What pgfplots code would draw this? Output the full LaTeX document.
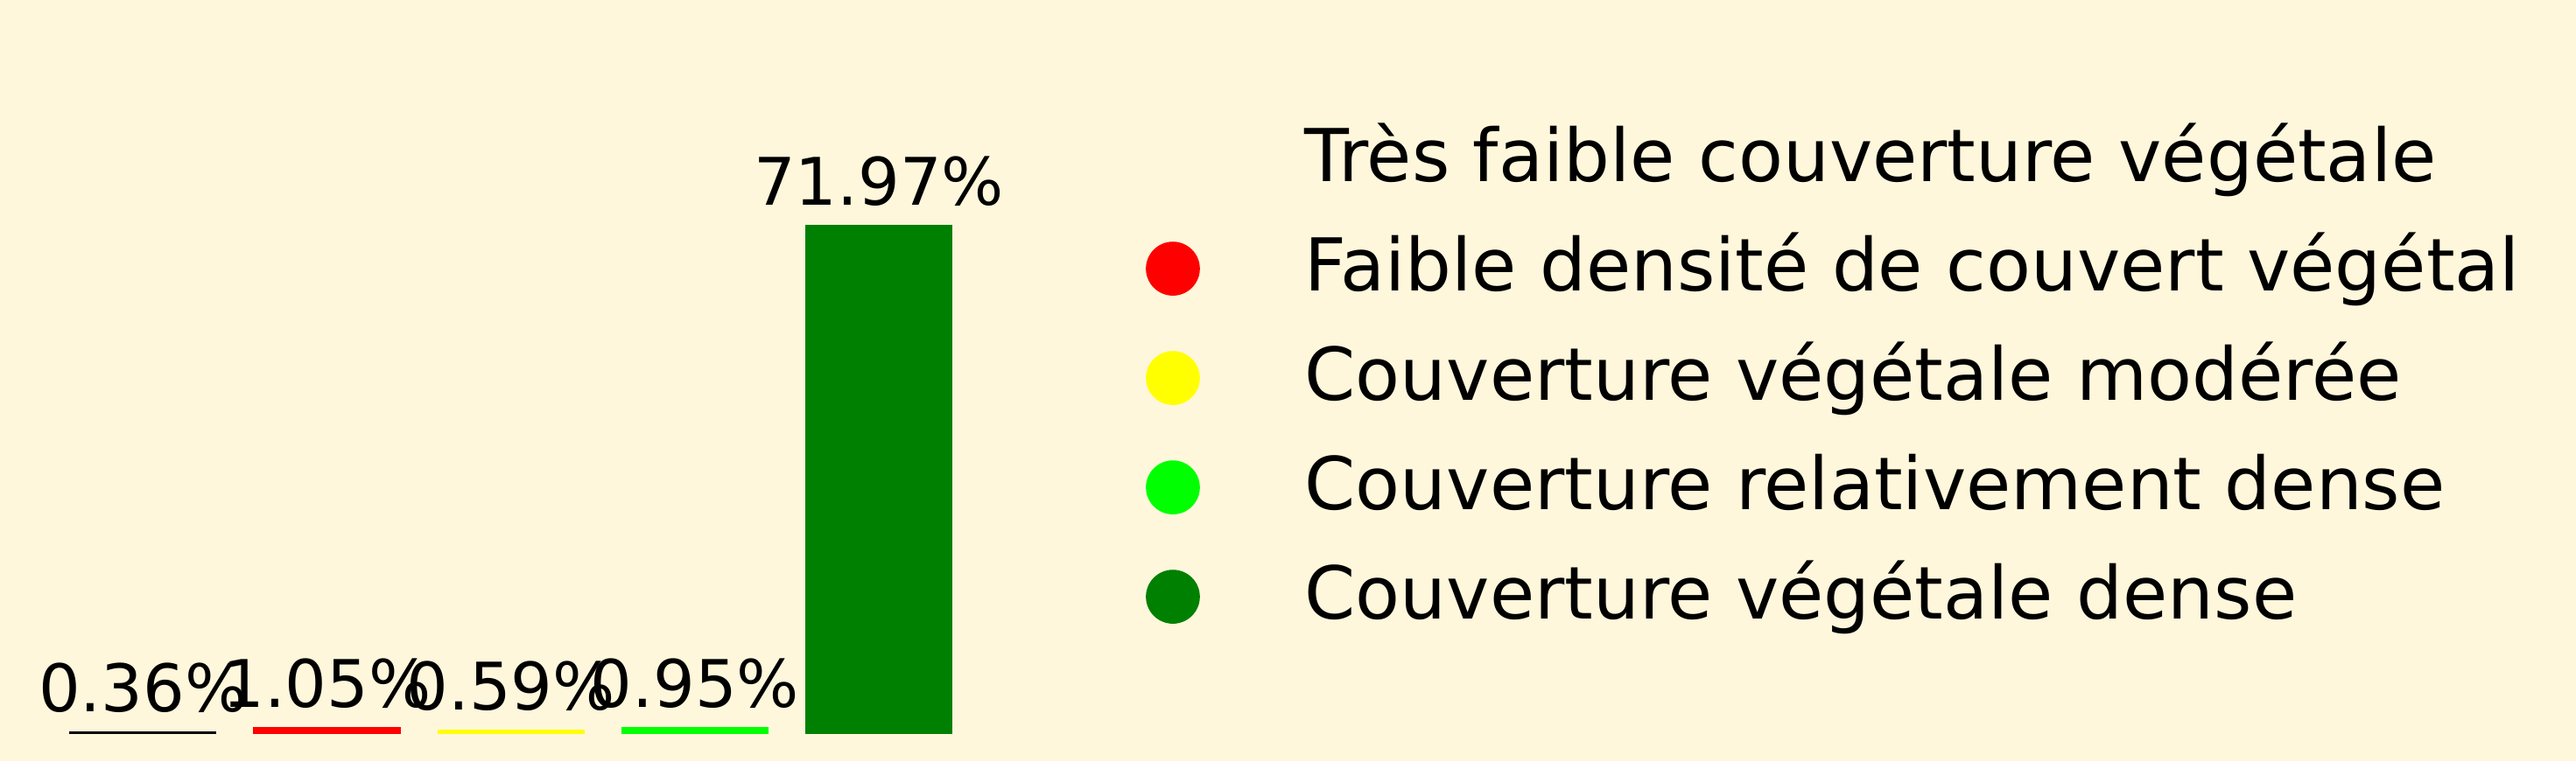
\documentclass[border=0pt]{standalone}
\usepackage{fontspec}
\setmainfont{DejaVu Sans}
\usepackage{pgfplots}
\pgfplotsset{compat=1.18}
\definecolor{bgc}{HTML}{FEF7DC}
\definecolor{cred}{HTML}{FF0000}
\definecolor{cyel}{HTML}{FFFF00}
\definecolor{clime}{HTML}{00FF00}
\definecolor{cgreen}{HTML}{008000}
\begin{document}
\begin{tikzpicture}
\fill[bgc] (0,0) rectangle (706.32bp,208.8bp);
\path[use as bounding box] (0,0) rectangle (706.32bp,208.8bp);
\begin{axis}[
  at={(6.9bp,7.44bp)}, anchor=south west,
  scale only axis, width=266.4bp, height=146.6bp,
  xmin=-0.64, xmax=4.64, ymin=0, ymax=75.57,
  hide axis,
  ybar, bar shift=0pt, bar width=0.8,
  clip=false,
  /pgf/number format/assume math mode=true,
  nodes near coords={\pgfmathprintnumber[fixed,precision=2,fixed zerofill,assume math mode=true]{\pgfplotspointmeta}\%},
  every node near coord/.append style={font=\fontsize{18bp}{21bp}\selectfont, anchor=base, yshift=5.4bp, inner sep=0pt, text=black},
  legend style={at={(rel axis cs:1.1535,1.1505)}, anchor=north west, draw=none, fill=none, inner sep=0pt, outer sep=0pt,
    font=\fontsize{20bp}{24bp}\selectfont, row sep=8bp,
    nodes={inner xsep=0pt, inner ysep=0pt, text height=17bp, text depth=5bp}},
  legend cell align=left,
]
\addplot[fill=black, draw=none, legend image code/.code={\path[draw=none,fill=none] (0bp,-7.4bp) rectangle (43.6bp,7.4bp);}] coordinates {(0,0.36)};
\addlegendentry{Très faible couverture végétale}
\addplot[fill=cred, draw=none, legend image code/.code={\fill[cred] (7.4bp,0bp) circle (7.4bp); \path[draw=none,fill=none] (0bp,0bp) -- (43.6bp,0bp);}] coordinates {(1,1.05)};
\addlegendentry{Faible densité de couvert végétal}
\addplot[fill=cyel, draw=none, legend image code/.code={\fill[cyel] (7.4bp,0bp) circle (7.4bp); \path[draw=none,fill=none] (0bp,0bp) -- (43.6bp,0bp);}] coordinates {(2,0.59)};
\addlegendentry{Couverture végétale modérée}
\addplot[fill=clime, draw=none, legend image code/.code={\fill[clime] (7.4bp,0bp) circle (7.4bp); \path[draw=none,fill=none] (0bp,0bp) -- (43.6bp,0bp);}] coordinates {(3,0.95)};
\addlegendentry{Couverture relativement dense}
\addplot[fill=cgreen, draw=none, legend image code/.code={\fill[cgreen] (7.4bp,0bp) circle (7.4bp); \path[draw=none,fill=none] (0bp,0bp) -- (43.6bp,0bp);}] coordinates {(4,71.97)};
\addlegendentry{Couverture végétale dense}
\end{axis}
\end{tikzpicture}
\end{document}
